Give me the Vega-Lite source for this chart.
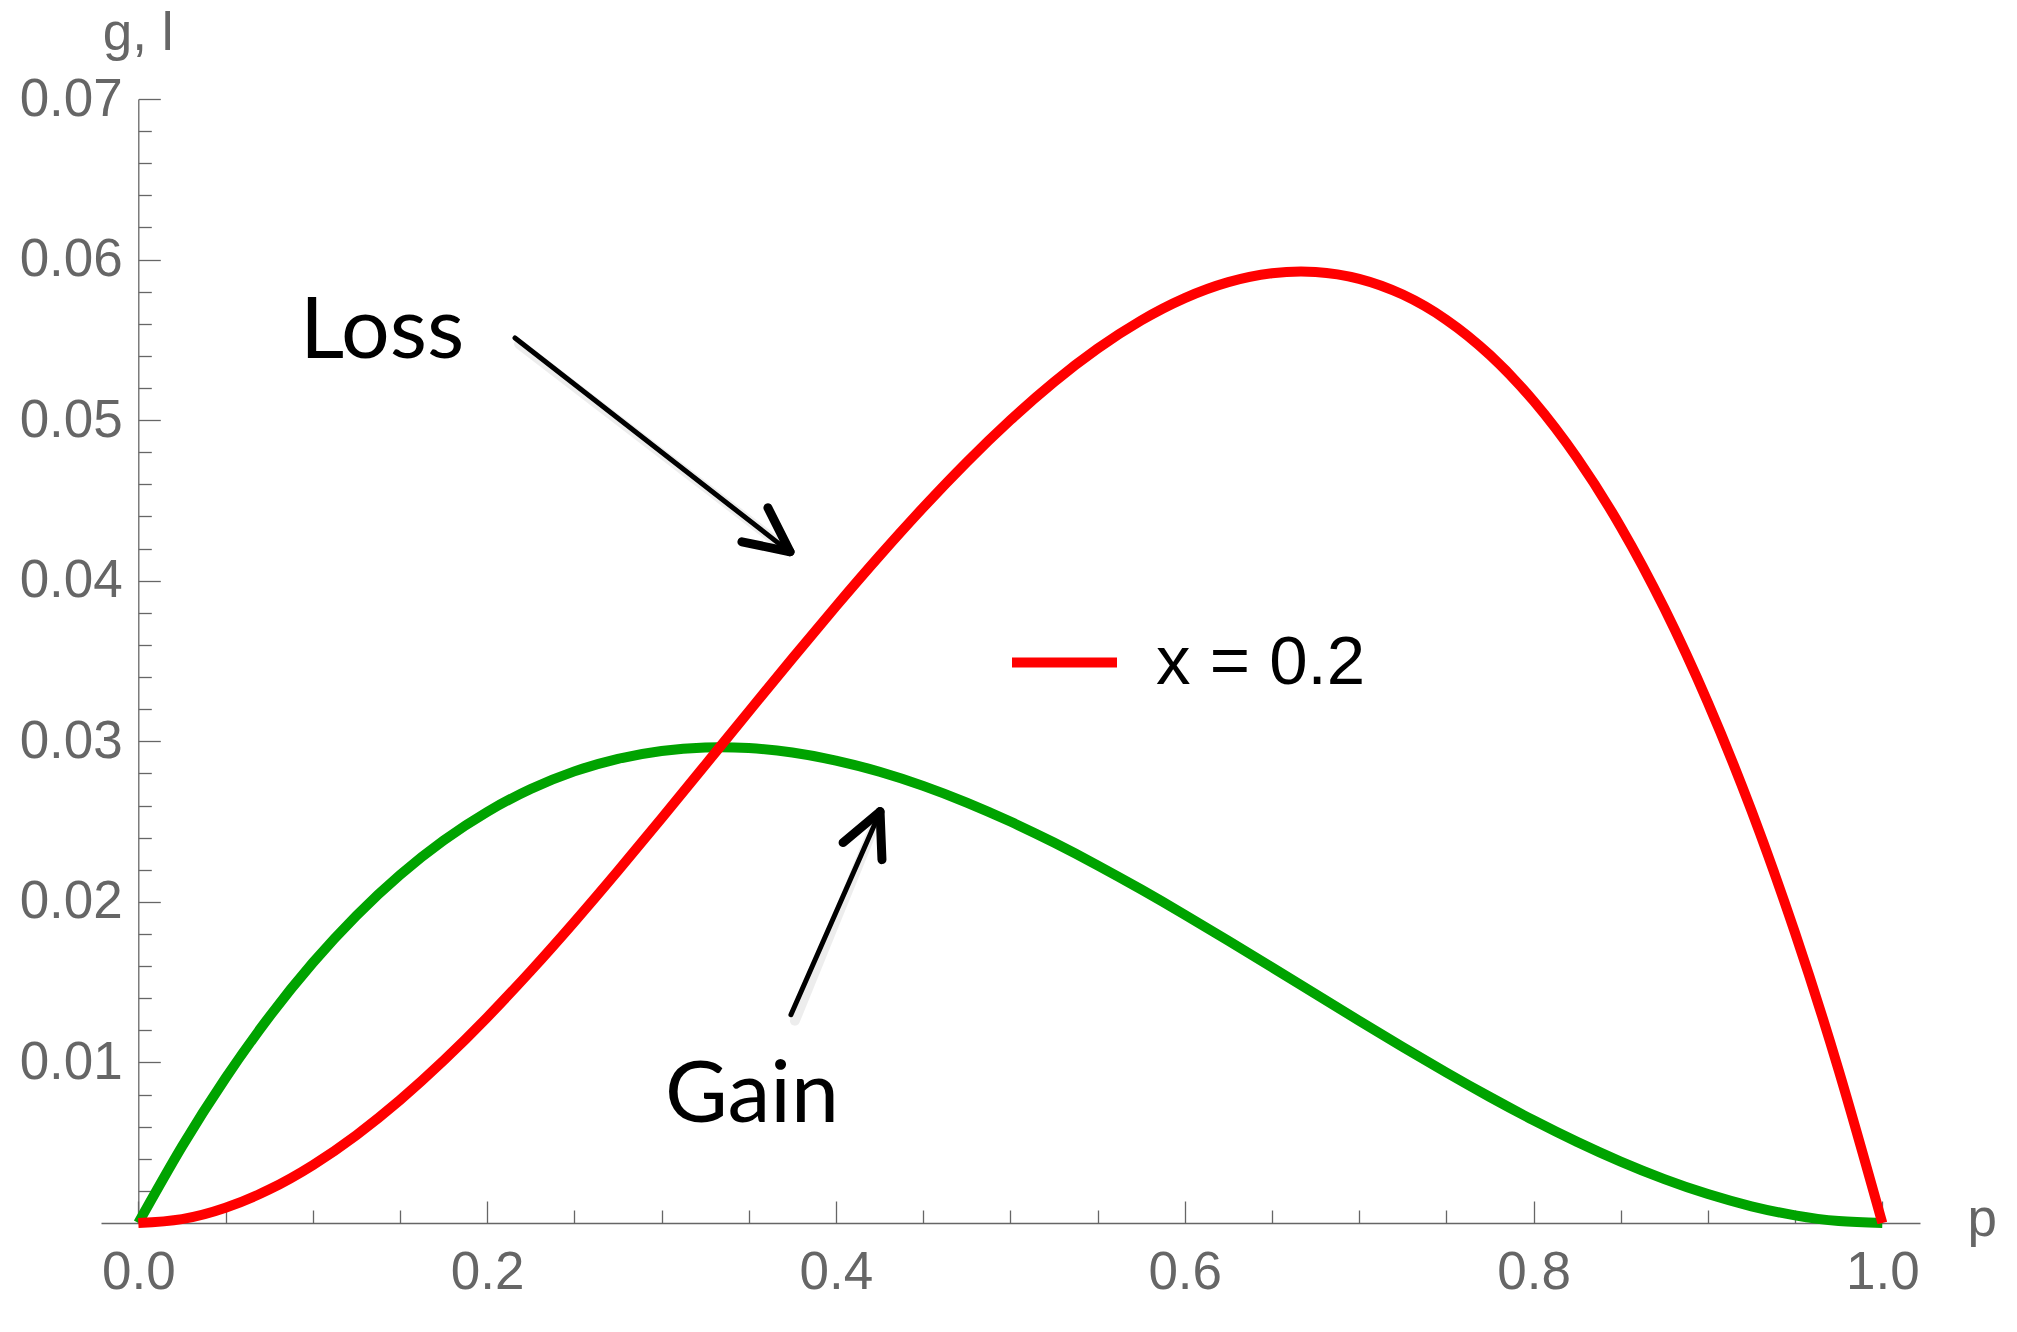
{
 "$schema": "https://vega.github.io/schema/vega-lite/v6.json",
 "width": 1819, "height": 1124,
 "autosize": {"type": "none"},
 "padding": {"left": 101, "top": 99, "right": 97, "bottom": 109},
 "background": "white",
 "config": {"view": {"stroke": null}, "axis": {"grid": false}},
 "datasets": {
  "curves": [
   {"p":0,"gain":0,"loss":0},{"p":0.025,"gain":0.004753,"loss":0.000244},{"p":0.05,"gain":0.009025,"loss":0.00095},{"p":0.075,"gain":0.012834,"loss":0.002081},
   {"p":0.1,"gain":0.0162,"loss":0.0036},{"p":0.125,"gain":0.019141,"loss":0.005469},{"p":0.15,"gain":0.021675,"loss":0.00765},{"p":0.175,"gain":0.023822,"loss":0.010106},
   {"p":0.2,"gain":0.0256,"loss":0.0128},{"p":0.225,"gain":0.027028,"loss":0.015694},{"p":0.25,"gain":0.028125,"loss":0.01875},{"p":0.275,"gain":0.028909,"loss":0.021931},
   {"p":0.3,"gain":0.0294,"loss":0.0252},{"p":0.325,"gain":0.029616,"loss":0.028519},{"p":0.35,"gain":0.029575,"loss":0.03185},{"p":0.375,"gain":0.029297,"loss":0.035156},
   {"p":0.4,"gain":0.0288,"loss":0.0384},{"p":0.425,"gain":0.028103,"loss":0.041544},{"p":0.45,"gain":0.027225,"loss":0.04455},{"p":0.475,"gain":0.026184,"loss":0.047381},
   {"p":0.5,"gain":0.025,"loss":0.05},{"p":0.525,"gain":0.023691,"loss":0.052369},{"p":0.55,"gain":0.022275,"loss":0.05445},{"p":0.575,"gain":0.020772,"loss":0.056206},
   {"p":0.6,"gain":0.0192,"loss":0.0576},{"p":0.625,"gain":0.017578,"loss":0.058594},{"p":0.65,"gain":0.015925,"loss":0.05915},{"p":0.675,"gain":0.014259,"loss":0.059231},
   {"p":0.7,"gain":0.0126,"loss":0.0588},{"p":0.725,"gain":0.010966,"loss":0.057819},{"p":0.75,"gain":0.009375,"loss":0.05625},{"p":0.775,"gain":0.007847,"loss":0.054056},
   {"p":0.8,"gain":0.0064,"loss":0.0512},{"p":0.825,"gain":0.005053,"loss":0.047644},{"p":0.85,"gain":0.003825,"loss":0.04335},{"p":0.875,"gain":0.002734,"loss":0.038281},
   {"p":0.9,"gain":0.0018,"loss":0.0324},{"p":0.925,"gain":0.001041,"loss":0.025669},{"p":0.95,"gain":0.000475,"loss":0.01805},{"p":0.975,"gain":0.000122,"loss":0.009506},
   {"p":1.0,"gain":0,"loss":0}
  ],
  "shafts": [
   {"arrow":"Loss","x":0.2160,"y":0.05512,"x2":0.3690,"y2":0.04217},
   {"arrow":"Gain","x":0.3742,"y":0.01297,"x2":0.4245,"y2":0.02540}
  ],
  "heads": [
   {"arrow":"Loss","x":0.3610,"y":0.04454,"x2":0.3737,"y2":0.04180},
   {"arrow":"Loss","x":0.3461,"y":0.04242,"x2":0.3737,"y2":0.04180},
   {"arrow":"Gain","x":0.4041,"y":0.02369,"x2":0.4253,"y2":0.02562},
   {"arrow":"Gain","x":0.4264,"y":0.02263,"x2":0.4253,"y2":0.02562}
  ],
  "labels": [
   {"label":"Loss","x":0.0927,"y":0.05386},
   {"label":"Gain","x":0.3020,"y":0.00630}
  ]
 },
 "resolve": {"axis": {"x": "independent", "y": "independent"}},
 "layer": [
  {
   "data": {"name": "curves"},
   "mark": {"type": "line", "color": "#00a300", "strokeWidth": 10, "interpolate": "natural"},
   "encoding": {
    "x": {"field": "p", "type": "quantitative", "scale": {"domain": [-0.0214, 1.0216], "nice": false, "zero": false},
     "axis": {"orient": "bottom", "values": [0,0.2,0.4,0.6,0.8,1], "format": ".1f", "ticks": false, "domain": true, "domainColor": "#666666", "domainWidth": 1.3,
      "labelFont": "Liberation Sans", "labelFontSize": 53, "labelColor": "#666666", "labelPadding": 23, "labelFlush": false, "labelOverlap": false, "labelBaseline": "top",
      "title": "p", "titleFont": "Liberation Sans", "titleFontSize": 53, "titleFontWeight": "normal", "titleColor": "#666666", "titleAngle": 0,
      "titleX": 1866, "titleY": 12, "titleAlign": "left", "titleBaseline": "alphabetic"}},
    "y": {"field": "gain", "type": "quantitative", "scale": {"domain": [0, 0.07], "nice": false},
     "axis": {"orient": "left", "offset": -37.3, "values": [0.01,0.02,0.03,0.04,0.05,0.06,0.07], "format": ".2f", "ticks": false, "domain": true, "domainColor": "#666666", "domainWidth": 1.3,
      "labelFont": "Liberation Sans", "labelFontSize": 53, "labelColor": "#666666", "labelPadding": 16, "labelFlush": false, "labelOverlap": false, "labelBaseline": "middle",
      "title": "g, l", "titleFont": "Liberation Sans", "titleFontSize": 53, "titleFontWeight": "normal", "titleColor": "#666666", "titleAngle": 0,
      "titleX": -36, "titleY": -50, "titleAlign": "left", "titleBaseline": "alphabetic"}}
   }
  },
  {
   "data": {"name": "curves"},
   "mark": {"type": "line", "strokeWidth": 10, "interpolate": "natural"},
   "encoding": {
    "x": {"field": "p", "type": "quantitative",
     "axis": {"orient": "bottom", "values": [0,0.2,0.4,0.6,0.8,1], "ticks": true, "tickSize": -22, "tickColor": "#666666", "tickWidth": 1.3, "domain": false, "labels": false, "title": null}},
    "y": {"field": "loss", "type": "quantitative",
     "axis": {"orient": "left", "offset": -37.3, "values": [0,0.01,0.02,0.03,0.04,0.05,0.06,0.07], "ticks": true, "tickSize": -22, "tickColor": "#666666", "tickWidth": 1.3, "domain": false, "labels": false, "title": null}},
    "color": {"datum": "x = 0.2", "type": "nominal", "scale": {"range": ["#ff0000"]},
     "legend": {"orient": "none", "legendX": 906, "legendY": 506, "title": null, "symbolType": "stroke", "symbolSize": 11025, "symbolStrokeWidth": 10,
      "labelFont": "Liberation Sans", "labelFontSize": 69, "labelColor": "black", "labelOffset": 34, "labelLimit": 1000, "padding": 0}}
   }
  },
  {
   "data": {"name": "shafts"},
   "mark": {"type": "rule", "color": "black", "strokeWidth": 10, "strokeCap": "round", "opacity": 0.07, "xOffset": 4, "yOffset": 6},
   "encoding": {
    "x": {"field": "x", "type": "quantitative", "axis": null},
    "y": {"field": "y", "type": "quantitative", "axis": null},
    "x2": {"field": "x2"},
    "y2": {"field": "y2"}
   }
  },
  {
   "data": {"name": "shafts"},
   "mark": {"type": "rule", "color": "black", "strokeWidth": 5, "strokeCap": "round"},
   "encoding": {
    "x": {"field": "x", "type": "quantitative",
     "axis": {"orient": "bottom", "values": [0.05,0.1,0.15,0.25,0.3,0.35,0.45,0.5,0.55,0.65,0.7,0.75,0.85,0.9,0.95], "ticks": true, "tickSize": -13, "tickColor": "#666666", "tickWidth": 1.3, "domain": false, "labels": false, "title": null}},
    "y": {"field": "y", "type": "quantitative",
     "axis": {"orient": "left", "offset": -37.3, "values": [0.002,0.004,0.006,0.008,0.012,0.014,0.016,0.018,0.022,0.024,0.026,0.028,0.032,0.034,0.036,0.038,0.042,0.044,0.046,0.048,0.052,0.054,0.056,0.058,0.062,0.064,0.066,0.068], "ticks": true, "tickSize": -13, "tickColor": "#666666", "tickWidth": 1.3, "domain": false, "labels": false, "title": null}},
    "x2": {"field": "x2"},
    "y2": {"field": "y2"}
   }
  },
  {
   "data": {"name": "heads"},
   "mark": {"type": "rule", "color": "black", "strokeWidth": 9, "strokeCap": "round"},
   "encoding": {
    "x": {"field": "x", "type": "quantitative", "axis": null},
    "y": {"field": "y", "type": "quantitative", "axis": null},
    "x2": {"field": "x2"},
    "y2": {"field": "y2"}
   }
  },
  {
   "data": {"name": "labels"},
   "mark": {"type": "text", "font": "Lato", "fontSize": 86, "color": "black", "align": "left", "baseline": "alphabetic"},
   "encoding": {
    "x": {"field": "x", "type": "quantitative", "axis": null},
    "y": {"field": "y", "type": "quantitative", "axis": null},
    "text": {"field": "label"}
   }
  }
 ]
}
